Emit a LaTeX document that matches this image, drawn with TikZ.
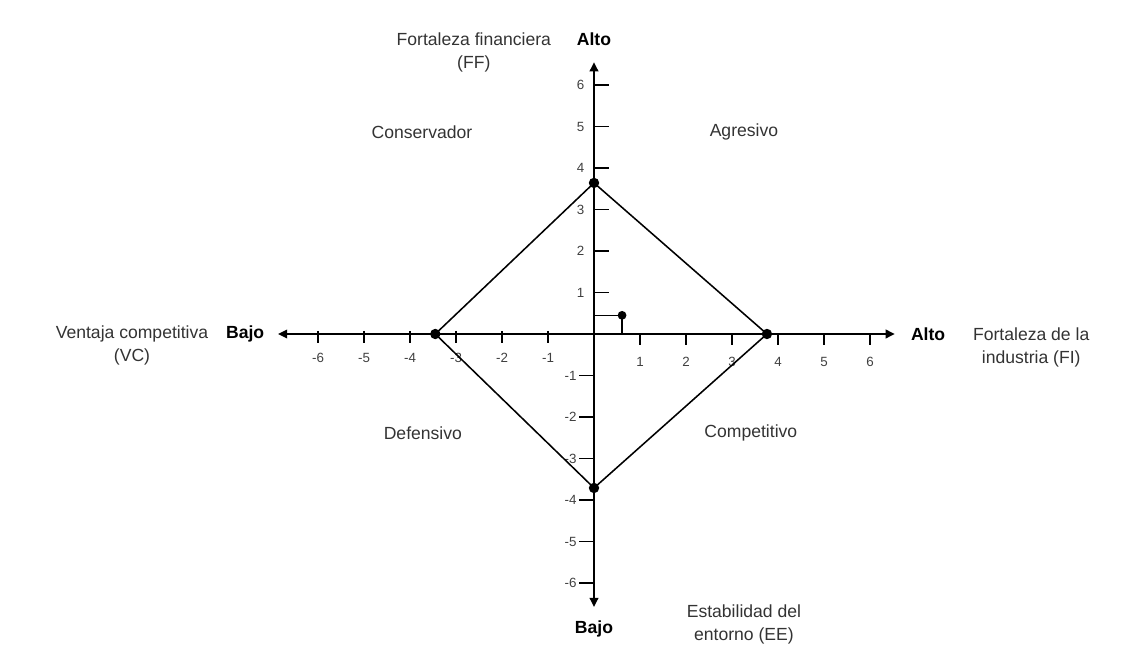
\documentclass[tikz,border=0pt]{standalone}
\usepackage{fontspec}
\setmainfont{Liberation Sans}
\usetikzlibrary{arrows.meta,positioning}
\tikzset{
  axisline/.style={line width=1.5pt,
    {Triangle[length=6.5pt,width=6pt]}-{Triangle[length=6.5pt,width=6pt]}},
  tickmark/.style={line width=1.4pt},
  ticklabel/.style={inner sep=1pt, font=\fontsize{9.5}{11}\selectfont, text=black!75},
  desclabel/.style={align=center, font=\fontsize{12.5}{16.5}\selectfont, text=black!80},
  quadlabel/.style={font=\fontsize{12.5}{15}\selectfont, text=black!80},
  endlabel/.style={font=\fontsize{12.5}{15}\selectfont\bfseries},
  vertexdot/.style={circle, fill=black, inner sep=0pt, minimum size=0.26cm},
  smalldot/.style={circle, fill=black, inner sep=0pt, minimum size=0.22cm},
  edgeline/.style={line width=1.1pt},
}

\begin{document}
\begin{tikzpicture}[x=1.15cm, y=1.0375cm]
  \useasboundingbox (-14.85cm,-8.25cm) rectangle (13.75cm,8.35cm);

  % axes
  \coordinate (xlo) at (-6.87,0);
  \coordinate (xhi) at (6.54,0);
  \coordinate (ylo) at (0,-6.58);
  \coordinate (yhi) at (0,6.55);

  \foreach \i in {1,...,6}
    \draw[tickmark] (\i,0) -- ++(0,-0.28cm) node[ticklabel, below=0.25cm] {\i};
  \foreach \i in {1,...,6}
    \draw[tickmark] (-\i,0.08cm) -- ++(0,-0.3cm) node[ticklabel, below=0.2cm] {-\i};
  \foreach \i in {1,...,6} {
    \draw[tickmark] (0,\i) -- ++(0.375cm,0);
    \node[ticklabel, left=0.2cm] at (0,\i) {\i};
  }
  \foreach \i in {1,...,6}
    \draw[tickmark] (0,-\i) -- ++(-0.375cm,0) node[ticklabel, left=0pt] {-\i};

  \draw[axisline] (xlo) -- (xhi);
  \draw[axisline] (ylo) -- (yhi);

  \node[endlabel, above=0.3cm of yhi] (altoy) {Alto};
  \node[endlabel, below=0.22cm of ylo] (bajoy) {Bajo};
  \node[endlabel, left=0.22cm of xlo] (bajox) {Bajo};
  \node[endlabel, right=0.28cm of xhi] (altox) {Alto};

  \node[desclabel, left=0.4cm of altoy.north west, anchor=north east] (ff)
    {Fortaleza financiera\\(FF)};
  \node[desclabel, left=0.2cm of bajox.north west, anchor=north east] (vc)
    {Ventaja competitiva\\(VC)};
  \node[desclabel, right=0.45cm of altox.north east, anchor=north west] (fi)
    {Fortaleza de la\\industria (FI)};
  \node[desclabel] (ee) at (3.26,-7.0) {Estabilidad del\\entorno (EE)};

  % quadrants
  \node[quadlabel] (cons) at (-3.74,4.87) {Conservador};
  \node[quadlabel] (agre) at (3.26,4.87) {Agresivo};
  \node[quadlabel] (defe) at (-3.72,-2.39) {Defensivo};
  \node[quadlabel] (comp) at (3.41,-2.39) {Competitivo};

  % diamond
  \node[vertexdot] (vl) at (-3.45,0) {};
  \node[vertexdot] (vr) at (3.76,0) {};
  \node[vertexdot] (vt) at (0,3.64) {};
  \node[vertexdot] (vb) at (0,-3.71) {};
  \draw[edgeline] (vt.center) -- (vr.center) -- (vb.center) -- (vl.center) -- cycle;

  % position
  \coordinate (py) at (0,0.45);
  \coordinate (px) at (0.61,0);
  \node[smalldot] (pt) at (0.61,0.45) {};
  \draw[line width=1.1pt] (py) -| (px);
\end{tikzpicture}
\end{document}
